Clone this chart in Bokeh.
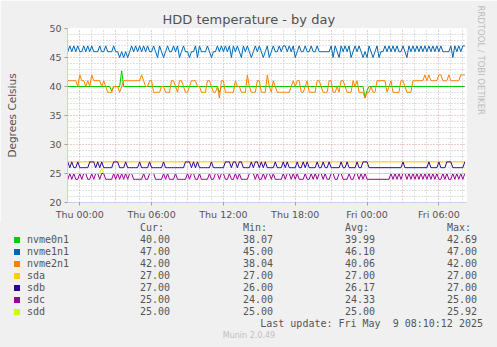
from bokeh.plotting import figure
from bokeh.layouts import column
from bokeh.models import Range1d, FixedTicker, Grid, Title, Div
from bokeh.embed import file_html
from bokeh.resources import INLINE

# ---------------- data ----------------
# samples every 10 minutes, index 0 = Wed 22:50, index 200 = Fri 08:10
nvme1n1 = [47,46,47,46,47,46,47,46,46,47, 46,47,46,47,46,46,46,47,46,46,
           47,46,46,46,47,46,46,45,46,45, 46,45,46,47,46,47,46,47,46,47,
           46,47,46,46,47,46,45,47,46,45, 46,47,46,46,47,46,47,45,46,47,
           46,46,45,46,46,47,45,47,46,46, 46,47,46,45,46,46,47,46,47,46,
           47,46,47,45,47,46,47,46,45,47, 46,47,46,45,46,47,46,47,46,45,
           46,47,45,46,47,46,46,47,46,47, 47,46,47,46,47,45,46,47,46,46,
           47,46,46,47,46,46,47,46,46,46, 46,46,46,47,45,47,46,45,47,46,
           47,46,47,45,46,47,46,47,46,45, 46,45,47,46,45,46,47,45,46,46,
           47,46,47,46,47,46,47,46,46,47, 46,45,47,46,47,46,47,46,47,46,
           47,46,47,46,47,46,47,46,47,46, 46,46,46,47,45,47,46,47,46,47,47]
nvme2n1 = [42,41,41,41,41,41,40,42,41,41, 40,41,40,42,41,41,41,41,40,41,
           40,39,39,39,40,40,40,39,40,41, 41,41,41,41,41,41,41,41,42,41,
           40,40,41,41,39,39,39,39,40,40, 39,39,39,41,41,40,39,41,41,40,
           39,39,40,41,41,41,40,40,39,39, 39,41,41,40,39,39,40,38,41,41,
           39,39,39,39,39,41,40,40,39,39, 39,42,40,39,39,39,41,41,39,39,
           39,42,40,39,41,40,39,39,39,39, 39,39,39,40,41,40,41,41,39,39,
           40,41,39,39,39,39,41,41,40,39, 39,39,41,41,39,39,40,39,41,41,
           40,39,39,39,41,40,41,39,39,39, 38,39,39,40,39,39,41,41,41,41,
           41,39,40,41,39,39,39,39,41,41, 40,39,39,39,41,41,41,41,41,41,
           42,41,42,41,41,41,41,42,42,41, 41,41,42,41,41,41,41,41,42,42,42]
sdb = [27,27,26,27,26,26,27,26,26,26,26,26,27,27,27,26,27,26,27,26,
       26,26,26,26,27,27,27,26,26,26,27,26,26,26,26,26,26,27,26,26,
       26,26,27,26,26,26,26,26,26,27,26,26,26,26,26,26,26,26,26,26,
       27,27,27,26,27,26,27,26,26,26,26,26,26,27,26,26,26,26,26,26,
       27,27,27,26,27,27,26,27,27,26,26,26,26,27,26,27,27,26,27,26,
       27,26,26,26,26,27,26,26,26,27,26,27,26,26,26,26,27,26,26,27,
       26,27,26,26,26,26,27,26,26,27,26,26,27,26,26,26,26,26,27,26,
       26,27,26,26,26,26,27,26,26,27,27,27,26,26,26,26,26,26,26,26,
       26,26,26,26,26,26,26,26,26,27,26,26,26,26,26,26,26,26,26,26,
       26,26,27,26,26,26,26,27,26,26,26,27,27,27,26,26,26,26,26,26,27]
sdc = [25,24,25,24,25,24,24,25,24,25,25,24,24,25,24,25,25,24,25,25,
       24,24,24,24,25,24,25,24,25,24,25,24,25,25,24,24,24,24,24,25,
       24,24,25,25,25,24,24,24,24,25,24,25,24,24,24,25,24,24,24,24,
       24,25,24,25,25,24,24,25,24,24,24,24,25,24,24,25,25,24,25,25,
       24,24,25,24,24,25,24,25,24,24,24,24,25,25,25,24,25,24,24,25,
       24,25,25,24,25,24,24,24,24,25,24,25,25,24,25,24,25,24,24,24,
       25,24,24,25,24,25,24,25,25,24,25,24,24,25,25,24,24,25,25,24,
       24,24,25,24,24,25,25,24,25,24,25,24,24,24,24,24,24,24,24,24,
       24,24,24,25,24,25,24,25,24,25,25,24,25,24,25,24,25,24,25,24,
       25,24,25,24,25,24,25,24,24,25,24,25,24,24,25,24,25,24,25,24,25]
# sparse series: (sample index, value)
nvme0n1_idx = [0, 22, 23, 24, 27, 28, 29, 76, 77, 78, 149, 150, 151, 152, 200]
nvme0n1_val = [40, 40, 39.2, 40, 40, 42.69, 40, 40, 39, 40, 40, 38.07, 39.3, 40, 40]
sda_idx = [0, 200]
sda_val = [27, 27]
sdd_idx = [0, 17, 18, 19, 200]
sdd_val = [25, 25, 25.92, 25, 25]

names = ["nvme0n1", "nvme1n1", "nvme2n1", "sda", "sdb", "sdc", "sdd"]
colors = ["#00CC00", "#0066B3", "#FF8000", "#FFCC00", "#330099", "#990099", "#CCFF00"]
cur = ["40.00", "47.00", "42.00", "27.00", "27.00", "25.00", "25.00"]
mins = ["38.07", "45.00", "38.04", "27.00", "26.00", "24.00", "25.00"]
avgs = ["39.99", "46.10", "40.06", "27.00", "26.17", "24.33", "25.00"]
maxs = ["42.69", "47.00", "42.00", "27.00", "27.00", "25.00", "25.92"]
headers = ["Cur:", "Min:", "Avg:", "Max:"]
x_ticks = [0, 6, 12, 18, 24, 30]
x_labels = ["Thu 00:00", "Thu 06:00", "Thu 12:00", "Thu 18:00", "Fri 00:00", "Fri 06:00"]
y_ticks = [20, 25, 30, 35, 40, 45, 50]
last_update = "Last update: Fri May  9 08:10:12 2025"
version = "Munin 2.0.49"


def hours(i):
    return (-70 + 10 * i) / 60.0


t = [hours(i) for i in range(len(nvme1n1))]

# ---------------- chart ----------------
W, H = 497, 347
H1 = 222
FL, FT, FW, FH = 67, 28, 400, 175
FB = FT + FH
BG = "#F0F0F0"
TXT = "#555555"
AXC = "#C8CFF2"

p = figure(width=W, height=H1, output_backend="svg", toolbar_location=None,
           x_range=Range1d(-1.025, 32.308), y_range=Range1d(20, 50),
           min_border_left=FL, min_border_right=W - FL - FW,
           min_border_top=FT, min_border_bottom=H1 - FB)
p.title.text = "HDD temperature - by day"
p.title.text_font = "DejaVu Sans"
p.title.text_font_size = "13px"
p.title.text_font_style = "normal"
p.title.text_color = "#505050"
p.title.align = "left"
p.title.offset = 95
p.title.standoff = 3
p.background_fill_color = "white"
p.border_fill_color = BG
p.outline_line_color = None

p.add_layout(Title(text="RRDTOOL / TOBI OETIKER", text_font="DejaVu Sans",
                   text_font_size="8.5px", text_font_style="normal",
                   text_color="#BDBDBD", align="left", offset=-23, standoff=19), "right")

for ax in (p.xaxis[0], p.yaxis[0]):
    ax.axis_line_color = AXC
    ax.major_tick_line_color = "#A0A0A0"
    ax.major_tick_out = 3
    ax.major_tick_in = 0
    ax.minor_tick_line_color = None
    ax.major_label_text_font = "DejaVu Sans"
    ax.major_label_text_font_size = "9.5px"
    ax.major_label_text_color = TXT
    ax.major_label_standoff = 3

p.xaxis.ticker = FixedTicker(ticks=x_ticks)
p.xaxis.major_label_overrides = {k: v for k, v in zip(x_ticks, x_labels)}
p.yaxis.ticker = FixedTicker(ticks=y_ticks)
p.yaxis.axis_label = "Degrees Celsius"
p.yaxis.axis_label_text_font = "DejaVu Sans"
p.yaxis.axis_label_text_font_size = "10.5px"
p.yaxis.axis_label_text_font_style = "normal"
p.yaxis.axis_label_text_color = TXT
p.yaxis.axis_label_standoff = 28

major_x = [h for h in range(0, 33, 3)]
minor_x = [h for h in range(-1, 33) if h % 3 != 0]
major_y = y_ticks
minor_y = [v for v in range(20, 51) if v % 5 != 0]

p.xgrid.ticker = FixedTicker(ticks=major_x)
p.ygrid.ticker = FixedTicker(ticks=major_y)
for g in (p.xgrid[0], p.ygrid[0]):
    g.grid_line_color = "#E09A9A"
    g.grid_line_dash = "1 2"
    g.grid_line_width = 1
p.add_layout(Grid(dimension=0, ticker=FixedTicker(ticks=minor_x),
                  grid_line_color="#C4C4C4", grid_line_dash="1 2"))
p.add_layout(Grid(dimension=1, ticker=FixedTicker(ticks=minor_y),
                  grid_line_color="#C4C4C4", grid_line_dash="1 2"))

p.line([hours(i) for i in nvme0n1_idx], nvme0n1_val, line_color=colors[0], line_width=1)
p.line(t, nvme1n1, line_color=colors[1], line_width=1)
p.line(t, nvme2n1, line_color=colors[2], line_width=1)
p.line([hours(i) for i in sda_idx], sda_val, line_color=colors[3], line_width=1)
p.line(t, sdb, line_color=colors[4], line_width=1)
p.line(t, sdc, line_color=colors[5], line_width=1)
p.line([hours(i) for i in sdd_idx], sdd_val, line_color=colors[6], line_width=1)

# ---------------- legend panel (HTML, absolute pixel positions) ----------------
H2 = H - H1
rows_y = [240 + 12 * i for i in range(len(names))]
cols_x = [140, 243, 345, 447]


def span(text, x, cy, extra=""):
    return ('<span style="position:absolute;left:%dpx;top:%dpx;line-height:12px;height:12px;'
            'white-space:pre;%s">%s</span>' % (x, cy - H1 - 6, extra, text))


parts = []
for hx, ht in zip(cols_x, headers):
    parts.append(span(ht, hx, 228))
for i, nm in enumerate(names):
    cy = rows_y[i]
    parts.append('<span style="position:absolute;left:14px;top:%dpx;width:6px;height:6px;'
                 'background:%s"></span>' % (cy - H1 - 3, colors[i]))
    parts.append(span(nm, 27, cy))
    for cx, vals in zip(cols_x, [cur, mins, avgs, maxs]):
        parts.append(span(vals[i], cx, cy))
parts.append('<span style="position:absolute;right:%dpx;top:%dpx;line-height:12px;white-space:pre">%s</span>'
             % (W - 483, 324 - H1 - 6, last_update))
parts.append('<span style="position:absolute;left:0px;width:%dpx;text-align:center;top:%dpx;line-height:10px;'
             'font-family:\'DejaVu Sans\';font-size:8px;color:#C0C0C0;white-space:pre">%s</span>'
             % (2 * 249, 336 - H1 - 5, version))

html = ('<div style="position:relative;width:%dpx;height:%dpx;background:%s;'
        'font-family:\'DejaVu Sans Mono\';font-size:10px;color:%s;margin:0;padding:0;overflow:hidden">%s</div>'
        % (W, H2, BG, TXT, "".join(parts)))
legend_div = Div(text=html, width=W, height=H2, margin=0)

layout = column(p, legend_div, spacing=0)
open("out.html", "w").write(file_html(layout, INLINE))
